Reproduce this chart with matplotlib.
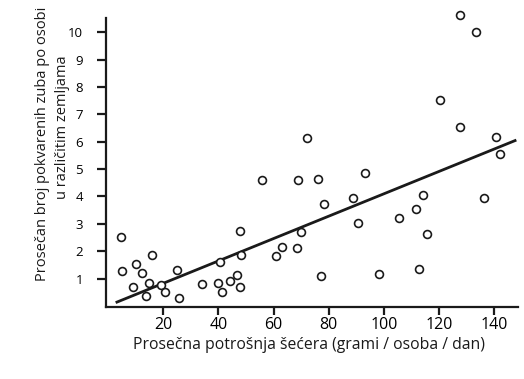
import matplotlib
matplotlib.use("Agg")
from matplotlib import pyplot as plt

plt.rcParams['font.family'] = ['Open Sans', 'DejaVu Sans']

# sugar consumption (g / person / day)
sugar = [4.7, 5.0, 10.0, 9.1, 12.4, 15.9, 14.9, 13.7, 19.1, 20.8,
         25.2, 25.8, 34.1, 39.9, 40.6, 41.5, 44.4, 46.6, 47.8, 47.8,
         48.4, 55.9, 68.9, 69.9, 60.9, 62.9, 68.6, 72.0, 76.0, 93.1,
         78.4, 88.9, 114.0, 136.3, 90.7, 105.3, 111.7, 115.8, 77.1, 98.2,
         112.8, 142.0, 127.5, 133.2, 120.4, 127.6, 140.8]
# decayed teeth per person
teeth = [2.5, 1.29, 1.54, 0.70, 1.19, 1.85, 0.83, 0.36, 0.78, 0.49,
         1.33, 0.28, 0.81, 0.83, 1.59, 0.50, 0.91, 1.13, 0.68, 2.74,
         1.86, 4.59, 4.59, 2.69, 1.82, 2.15, 2.10, 6.12, 4.64, 4.84,
         3.73, 3.96, 4.04, 3.93, 3.04, 3.22, 3.54, 2.62, 1.11, 1.17,
         1.36, 5.55, 10.63, 10.02, 7.54, 6.52, 6.16]

# regression line end points
fit_x = [2.8, 148.0]
fit_y = [0.12, 6.06]

xticks = [20, 40, 60, 80, 100, 120, 140]
yticks = [1, 2, 3, 4, 5, 6, 7, 8, 9, 10]

fig = plt.figure(figsize=(5.24, 3.79), dpi=100)
ax = fig.add_axes([106/524, 1 - 307/379, 412/524, 289/379])

ax.plot(fit_x, fit_y, color='#1a1a1a', lw=2.0, solid_capstyle='butt', zorder=2)
ax.scatter(sugar, teeth, s=32, facecolors='white', edgecolors='#1a1a1a',
           linewidths=1.2, zorder=3, clip_on=False)

ax.set_xlim(-0.7, 148.6)
ax.set_ylim(-0.04, 10.52)
ax.set_xticks(xticks)
ax.set_yticks(yticks)

for side in ['top', 'right']:
    ax.spines[side].set_visible(False)
for side in ['left', 'bottom']:
    ax.spines[side].set_linewidth(1.6)
    ax.spines[side].set_color('#1a1a1a')

ax.tick_params(axis='x', length=6, width=1.6, color='#1a1a1a', labelsize=11.5, pad=1.5)
ax.tick_params(axis='y', length=6.5, width=1.6, color='#1a1a1a', labelsize=9.5, pad=10)

fig.text(309/524, 1 - 345/379, 'Prosečna potrošnja šećera (grami / osoba / dan)',
         ha='center', va='center', fontsize=11.3, color='#1a1a1a')
fig.text(43/524, 1 - 144/379, 'Prosečan broj pokvarenih zuba po osobi',
         ha='center', va='center', rotation=90, fontsize=10.5, color='#1a1a1a')
fig.text(62/524, 1 - 127/379, 'u različitim zemljama',
         ha='center', va='center', rotation=90, fontsize=10.5, color='#1a1a1a')

fig.savefig('out.png', dpi=100)
